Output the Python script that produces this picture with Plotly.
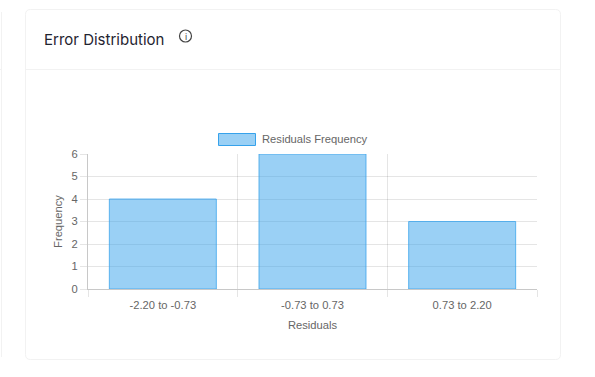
import plotly.graph_objects as go

categories = ["-2.20 to -0.73", "-0.73 to 0.73", "0.73 to 2.20"]
frequency = [4, 6, 3]
y_ticks = [0, 1, 2, 3, 4, 5, 6]
series_name = "Residuals Frequency"
title_text = "Error Distribution"
x_title = "Residuals"
y_title = "Frequency"

W, H = 595, 377
L, R, T, B = 88, 537, 154, 289
TXT = "#666666"
FS = 11.2
GRID = "rgba(0,0,0,0.1)"
CARD = "#f2f2f2"
FILL = "rgba(54,162,235,0.5)"
EDGE = "rgba(54,162,235,0.75)"


def px(x):
    return (x - L) / (R - L)


def py(y):
    return (B - y) / (B - T)


def box(x0, y0, x1, y1, **kw):
    return dict(type="rect", xref="paper", yref="paper", x0=px(x0), x1=px(x1), y0=py(y1), y1=py(y0), **kw)


def seg(x0, y0, x1, y1, color, width=1):
    return dict(type="line", xref="paper", yref="paper", x0=px(x0), x1=px(x1), y0=py(y0), y1=py(y1),
                line=dict(color=color, width=width), layer="below")


def rounded(x0, y0, x1, y1, r):
    X0, X1, Y0, Y1 = px(x0), px(x1), py(y0), py(y1)
    rx, ry = r / (R - L), r / (B - T)
    path = (f"M{X0 + rx},{Y0} L{X1 - rx},{Y0} Q{X1},{Y0} {X1},{Y0 - ry} L{X1},{Y1 + ry} "
            f"Q{X1},{Y1} {X1 - rx},{Y1} L{X0 + rx},{Y1} Q{X0},{Y1} {X0},{Y1 + ry} L{X0},{Y0 - ry} Q{X0},{Y0} {X0 + rx},{Y0} Z")
    return dict(type="path", xref="paper", yref="paper", path=path,
                line=dict(color=CARD, width=1), fillcolor="white", layer="below")


fig = go.Figure(go.Bar(x=categories, y=frequency, name=series_name, width=0.715,
                       marker=dict(color=FILL, line=dict(color=EDGE, width=1)),
                       showlegend=False))

shapes = [
    rounded(25.5, 9.5, 560.5, 359.5, 5),
    seg(25.5, 69.5, 560.5, 69.5, CARD),
    seg(1.5, 12, 1.5, 357, CARD),
    seg(0, 69.5, 1.5, 69.5, CARD),
    box(218.5, 133.5, 255.5, 145.5, fillcolor=FILL, line=dict(color="rgb(54,162,235)", width=1)),
    dict(type="circle", xref="paper", yref="paper", x0=px(179.5), x1=px(191.5), y0=py(42), y1=py(30),
         line=dict(color="#444444", width=1.2), fillcolor="rgba(0,0,0,0)"),
]

annotations = [
    dict(text=title_text, x=px(42), y=py(39.5), xref="paper", yref="paper", xanchor="left", yanchor="middle",
         showarrow=False, font=dict(family="Inter", size=15, color="#1f2430")),
    dict(text="i", x=px(185.5), y=py(36), xref="paper", yref="paper", xanchor="center", yanchor="middle",
         showarrow=False, font=dict(family="Inter", size=9, color="#444444")),
    dict(text=series_name, x=px(260), y=py(139), xref="paper", yref="paper", xanchor="left", yanchor="middle",
         showarrow=False, font=dict(family="Liberation Sans", size=FS, color=TXT)),
]

fig.update_layout(
    width=W, height=H, autosize=False,
    margin=dict(l=L, r=W - R, t=T, b=H - B),
    paper_bgcolor="white", plot_bgcolor="rgba(0,0,0,0)",
    font=dict(family="Liberation Sans", size=FS, color=TXT),
    shapes=shapes, annotations=annotations, bargap=0.285,
    xaxis=dict(type="category", tickson="boundaries", range=[-0.5, 2.5], showgrid=True, gridcolor=GRID,
               gridwidth=1, ticks="outside", ticklen=7, tickcolor=GRID, tickwidth=1,
               showline=True, linecolor="#c8c8c8", linewidth=1, ticklabelstandoff=6,
               title=dict(text=x_title, standoff=10, font=dict(size=FS, color=TXT)),
               tickfont=dict(size=FS, color=TXT)),
    yaxis=dict(range=[0, 6], tickvals=y_ticks, showgrid=True, gridcolor=GRID, gridwidth=1, zeroline=False,
               ticks="outside", ticklen=7, tickcolor=GRID, tickwidth=1,
               showline=True, linecolor="#c8c8c8", linewidth=1,
               title=dict(text=y_title, standoff=6, font=dict(size=FS, color=TXT)),
               tickfont=dict(size=FS, color=TXT)),
)

fig.write_html("out.html", config={"displayModeBar": False},
               post_script="document.body.style.margin='0';document.documentElement.style.overflow='hidden';")
